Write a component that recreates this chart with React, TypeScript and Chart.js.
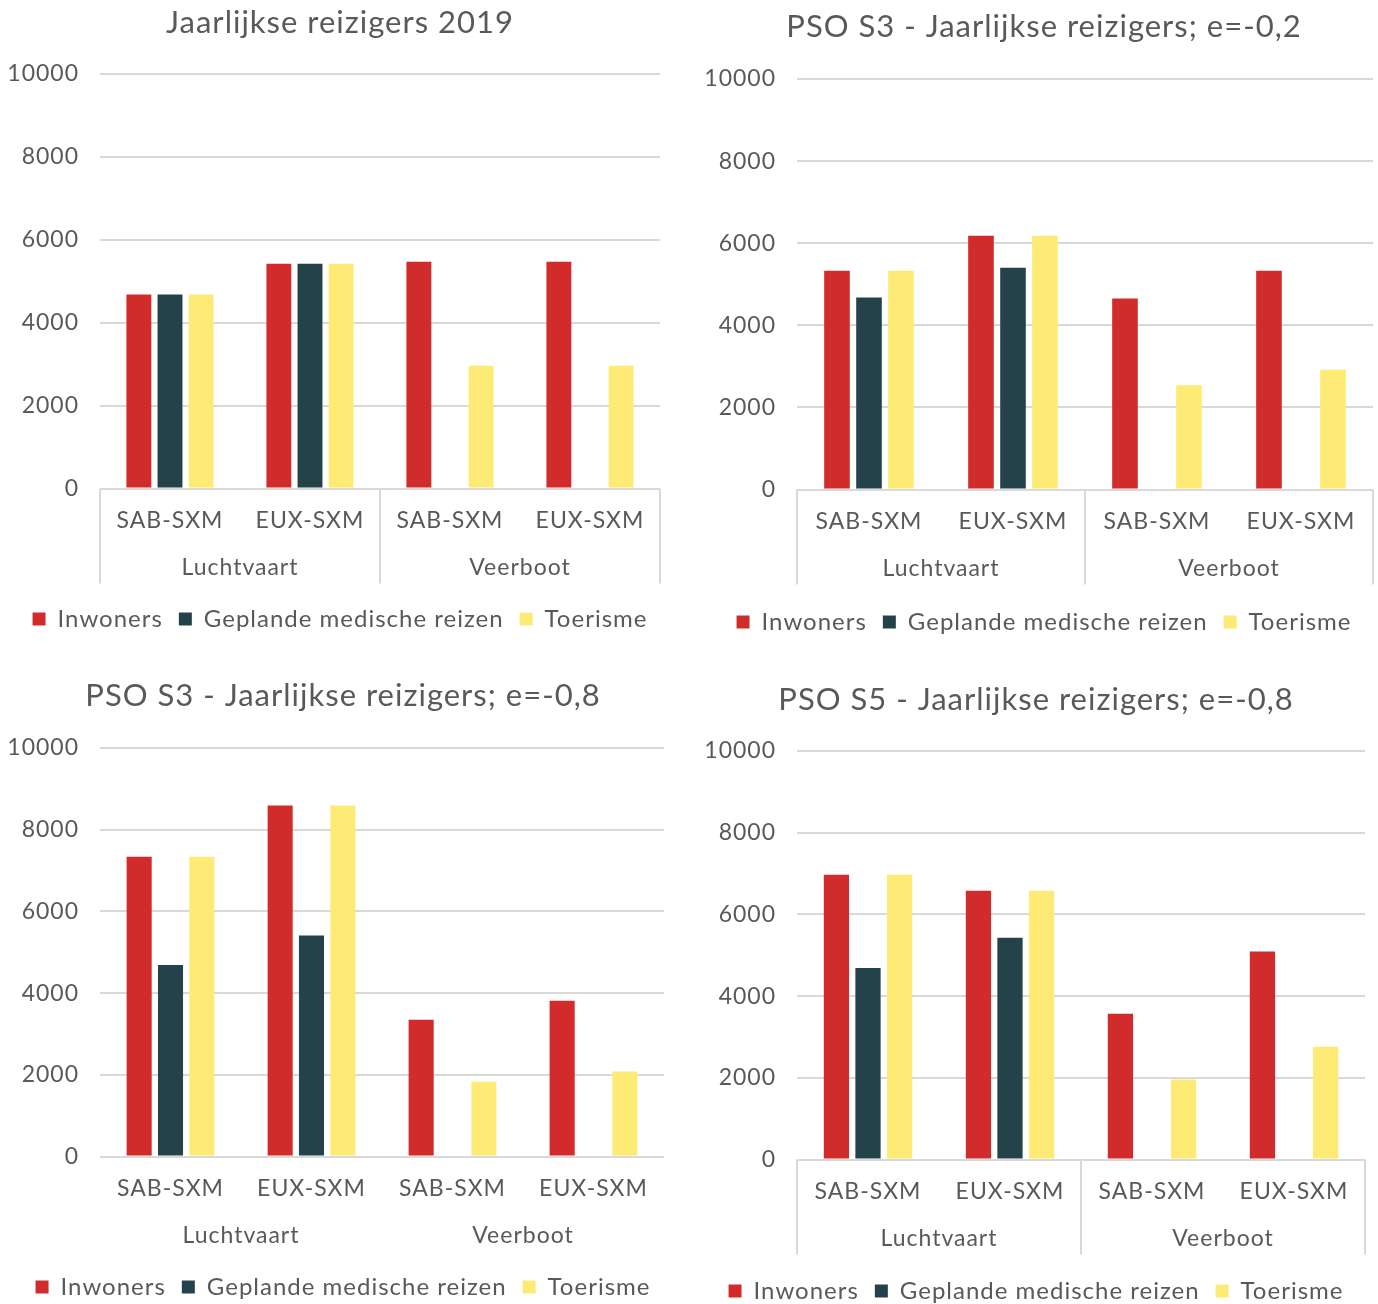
import React, { useEffect, useRef } from 'react';
import { Chart, registerables } from 'chart.js';

Chart.register(...registerables);

const FONT = 'Lato, "Open Sans", sans-serif';
const TEXT = '#595959';
const GRID = '#D9D9D9';
const RED = '#D22B2B';
const DARK = '#24424A';
const YELLOW = '#FDEB75';

const categories = ['SAB-SXM', 'EUX-SXM', 'SAB-SXM', 'EUX-SXM'];
const groups = ['Luchtvaart', 'Veerboot'];
const seriesNames = ['Inwoners', 'Geplande medische reizen', 'Toerisme'];
const yTicks = [0, 2000, 4000, 6000, 8000, 10000];

const titles = [
  'Jaarlijkse reizigers 2019',
  'PSO S3 - Jaarlijkse reizigers; e=-0,2',
  'PSO S3 - Jaarlijkse reizigers; e=-0,8',
  'PSO S5 - Jaarlijkse reizigers; e=-0,8',
];

const c1Inwoners = [4680, 5420, 5470, 5470];
const c1Medisch = [4680, 5420, null, null];
const c1Toerisme = [4680, 5420, 2960, 2960];

const c2Inwoners = [5330, 6180, 4650, 5330];
const c2Medisch = [4680, 5400, null, null];
const c2Toerisme = [5330, 6180, 2540, 2920];

const c3Inwoners = [7340, 8590, 3350, 3810];
const c3Medisch = [4690, 5410, null, null];
const c3Toerisme = [7340, 8590, 1830, 2080];

const c4Inwoners = [6970, 6580, 3570, 5090];
const c4Medisch = [4690, 5430, null, null];
const c4Toerisme = [6970, 6580, 1960, 2760];

type Panel = {
  title: string;
  series: (number | null)[][];
  box: { left: number; top: number; width: number; height: number };
  padBottom: number;
  titlePad: { top: number; bottom: number };
  yWidth: number;
  rightWidth: number;
  xHeight: number;
  dividers: boolean;
};

const spacingPlugin = {
  id: 'letterSpacing',
  beforeUpdate(chart: any) {
    (chart.ctx as any).letterSpacing = '1px';
  },
  beforeDraw(chart: any) {
    (chart.ctx as any).letterSpacing = '1px';
  },
};

const groupPlugin = {
  id: 'groupAxis',
  afterDraw(chart: any, _args: any, opts: any) {
    const { ctx, chartArea, scales } = chart;
    const xs = scales.x;
    const n = chart.data.labels.length;
    const per = n / groups.length;
    ctx.save();
    if (opts.dividers) {
      ctx.strokeStyle = GRID;
      ctx.lineWidth = 2;
      for (let i = 0; i <= groups.length; i++) {
        const px = xs.getPixelForValue(i * per - 0.5);
        ctx.beginPath();
        ctx.moveTo(px, chartArea.bottom);
        ctx.lineTo(px, chartArea.bottom + 95);
        ctx.stroke();
      }
    }
    ctx.fillStyle = TEXT;
    ctx.font = `23px ${FONT}`;
    ctx.textAlign = 'center';
    ctx.textBaseline = 'middle';
    groups.forEach((g, i) => {
      const l = xs.getPixelForValue(i * per - 0.5);
      const r = xs.getPixelForValue((i + 1) * per - 0.5);
      ctx.fillText(g, (l + r) / 2, chartArea.bottom + 79);
    });
    ctx.restore();
  },
};

function ChartPanel({ p }: { p: Panel }) {
  const ref = useRef<HTMLCanvasElement | null>(null);
  useEffect(() => {
    if (!ref.current) return;
    const colors = [RED, DARK, YELLOW];
    const chart = new Chart(ref.current, {
      type: 'bar',
      data: {
        labels: categories,
        datasets: seriesNames.map((name, i) => ({
          label: name,
          data: p.series[i] as any,
          backgroundColor: colors[i],
          borderWidth: 0,
          categoryPercentage: 0.667,
          barPercentage: 0.8,
          xAxisID: 'x',
          yAxisID: 'y',
        })),
      },
      options: {
        animation: false,
        responsive: true,
        maintainAspectRatio: false,
        layout: { padding: { top: 0, left: 0, right: 0, bottom: p.padBottom } },
        plugins: {
          title: {
            display: true,
            text: p.title,
            color: TEXT,
            font: { family: FONT, size: 31, weight: 'normal' as any, lineHeight: 1.2 },
            padding: { top: p.titlePad.top, bottom: p.titlePad.bottom },
          },
          legend: {
            position: 'bottom',
            labels: {
              color: TEXT,
              font: { family: FONT, size: 24 },
              boxWidth: 13,
              boxHeight: 13,
              padding: 16,
            },
          },
          tooltip: { enabled: false },
          groupAxis: { dividers: p.dividers },
        } as any,
        scales: {
          x: {
            grid: { display: false, drawTicks: false },
            border: { display: false },
            ticks: { color: TEXT, font: { family: FONT, size: 23 }, padding: 18, maxRotation: 0, autoSkip: false },
            afterFit: (s: any) => { s.height = p.xHeight; },
          },
          y: {
            position: 'left',
            min: 0,
            max: 10000,
            afterBuildTicks: (s: any) => { s.ticks = yTicks.map((v) => ({ value: v })); },
            grid: { color: GRID, lineWidth: 2, drawTicks: false },
            border: { display: false },
            ticks: { color: TEXT, font: { family: FONT, size: 23 }, padding: 21, callback: (v: any) => String(v) },
            afterFit: (s: any) => { s.width = p.yWidth; },
          },
          yRight: {
            type: 'linear',
            position: 'right',
            grid: { display: false, drawTicks: false },
            border: { display: false },
            ticks: { display: false },
            afterFit: (s: any) => { s.width = p.rightWidth; },
          },
        },
      },
      plugins: [spacingPlugin, groupPlugin],
    });
    return () => chart.destroy();
  }, [p]);
  return (
    <div style={{ position: 'absolute', left: p.box.left, top: p.box.top, width: p.box.width, height: p.box.height }}>
      <canvas ref={ref} />
    </div>
  );
}

const panels: Panel[] = [
  {
    title: titles[0],
    series: [c1Inwoners, c1Medisch, c1Toerisme],
    box: { left: 0, top: 0, width: 680, height: 665 },
    padBottom: 24,
    titlePad: { top: 4.4, bottom: 32.4 },
    yWidth: 100,
    rightWidth: 20,
    xHeight: 102.5,
    dividers: true,
  },
  {
    title: titles[1],
    series: [c2Inwoners, c2Medisch, c2Toerisme],
    box: { left: 700, top: 0, width: 688, height: 665 },
    padBottom: 21,
    titlePad: { top: 8.4, bottom: 33.4 },
    yWidth: 97,
    rightWidth: 15,
    xHeight: 104.5,
    dividers: true,
  },
  {
    title: titles[2],
    series: [c3Inwoners, c3Medisch, c3Toerisme],
    box: { left: 0, top: 655, width: 686, height: 680 },
    padBottom: 26,
    titlePad: { top: 22.4, bottom: 33.4 },
    yWidth: 100,
    rightWidth: 22,
    xHeight: 102.5,
    dividers: false,
  },
  {
    title: titles[3],
    series: [c4Inwoners, c4Medisch, c4Toerisme],
    box: { left: 695, top: 655, width: 682, height: 680 },
    padBottom: 22,
    titlePad: { top: 26.4, bottom: 32.4 },
    yWidth: 102,
    rightWidth: 12,
    xHeight: 103.5,
    dividers: true,
  },
];

export default function App() {
  return (
    <div style={{ position: 'absolute', left: 0, top: 0, width: 1378, height: 1304, overflow: 'hidden', background: '#fff' }}>
      {panels.map((p, i) => (
        <ChartPanel key={i} p={p} />
      ))}
    </div>
  );
}
